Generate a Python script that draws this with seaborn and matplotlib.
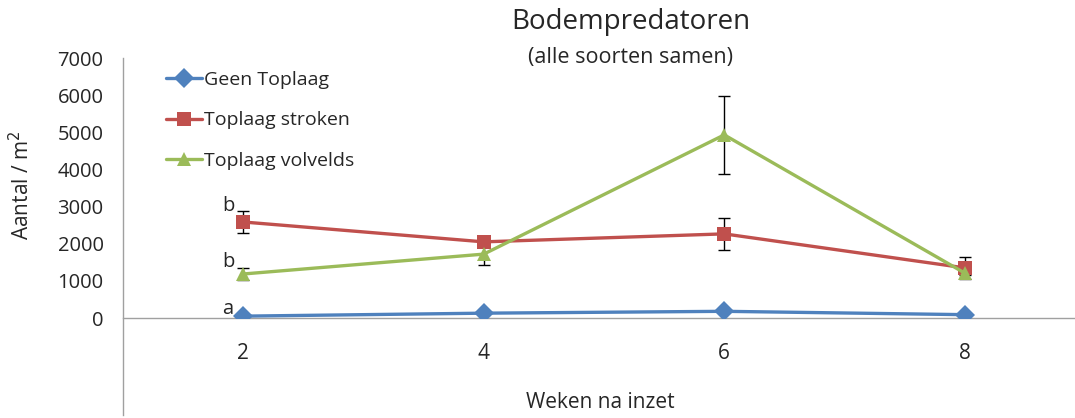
import matplotlib
matplotlib.use("Agg")
import matplotlib.pyplot as plt
import seaborn as sns
import pandas as pd

weeks = ["2", "4", "6", "8"]
series = ["Geen Toplaag", "Toplaag stroken", "Toplaag volvelds"]
geen = [50, 130, 180, 90]
stroken = [2585, 2050, 2265, 1350]
volvelds = [1185, 1720, 4930, 1210]
err_stroken = [300, 60, 440, 300]
err_volvelds = [170, 290, 1040, 60]
letters = ["b", "b", "a"]
letter_y = [3015, 1510, 240]

colors = ["#4F81BD", "#C0504D", "#9BBB59"]
markers = ["D", "s", "^"]

df = pd.DataFrame({
    "week": weeks * 3,
    "aantal": geen + stroken + volvelds,
    "behandeling": [s for s in series for _ in weeks],
})

sns.set_style("white")
plt.rcParams["font.family"] = ["Open Sans", "DejaVu Sans"]

fig = plt.figure(figsize=(10.75, 4.18), dpi=100)
ax = fig.add_axes([123 / 1075, 1 - 318 / 418, 962 / 1075, 260 / 418])

for vals, err in [(stroken, err_stroken), (volvelds, err_volvelds)]:
    ax.errorbar(weeks, vals, yerr=err, fmt="none", ecolor="black",
                elinewidth=1, capsize=4, capthick=1, zorder=1)

sns.lineplot(data=df, x="week", y="aantal", hue="behandeling", style="behandeling",
             palette=colors, markers=markers, dashes=False, linewidth=2.4,
             markersize=10, markeredgewidth=0, sort=False, ax=ax, zorder=3)

ax.set_xlim(-0.5, 3.5)
ax.set_ylim(0, 7000)
ax.set_yticks(range(0, 7001, 1000))
ax.tick_params(axis="y", direction="out", length=5, color="#A0A0A0", labelsize=14.5, pad=9)
ax.tick_params(axis="x", which="major", length=0, labelsize=15, pad=18)
ax.set_xticks([0.5, 1.5, 2.5], minor=True)
ax.tick_params(axis="x", which="minor", direction="out", length=37, color="#A0A0A0", width=1)

for side in ["top", "right"]:
    ax.spines[side].set_visible(False)
for side in ["left", "bottom"]:
    ax.spines[side].set_color("#A0A0A0")
    ax.spines[side].set_linewidth(1)
ax.spines["left"].set_bounds(-2620, 7000)

for t, v in zip(letters, letter_y):
    ax.annotate(t, xy=(0, v), xytext=(-11, 0), textcoords="offset points",
                ha="center", va="center", fontsize=14.5)

ax.set_xlabel("Weken na inzet", fontsize=15)
ax.set_ylabel("Aantal / m$^2$", fontsize=15)
ax.xaxis.set_label_coords((600 - 123) / 962, -(392 - 318) / 260)
ax.yaxis.set_label_coords(-(123 - 34) / 962, (318 - 185) / 260)

handles, labels = ax.get_legend_handles_labels()
ax.legend(handles, labels, loc="upper left", bbox_to_anchor=(0.037, 0.98),
          frameon=False, fontsize=14, labelspacing=1.15, handlelength=1.85,
          handletextpad=0.1, borderaxespad=0)

fig.text(631 / 1075, 1 - 22 / 418, "Bodempredatoren", ha="center", va="center", fontsize=20)
fig.text(631 / 1075, 1 - 58 / 418, "(alle soorten samen)", ha="center", va="center", fontsize=15.5)

fig.savefig("out.png", dpi=100)
